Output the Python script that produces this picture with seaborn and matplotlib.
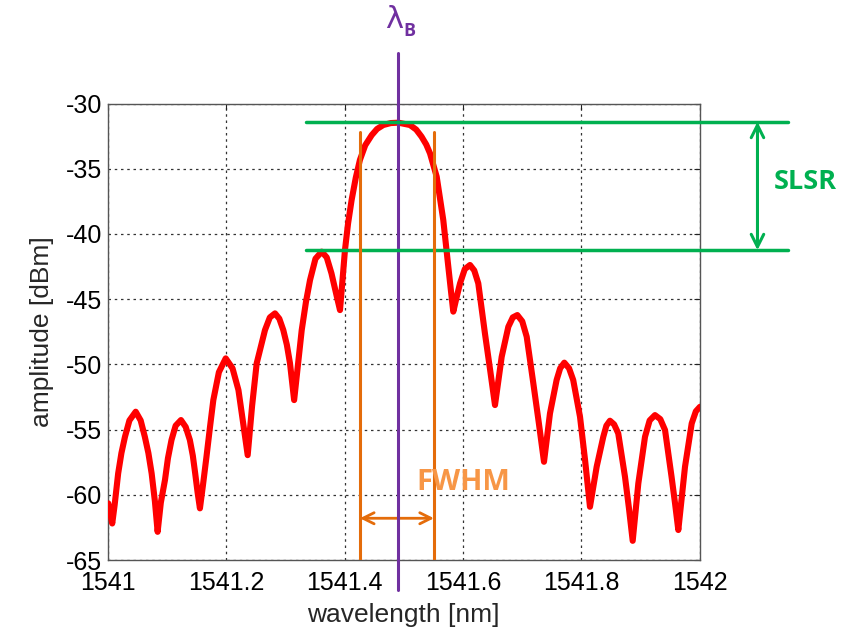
import matplotlib
matplotlib.use("Agg")
import matplotlib.pyplot as plt
import seaborn as sns
import pandas as pd

# ---- data ----
wavelength = [1541.0014, 1541.008, 1541.012, 1541.018, 1541.0235, 1541.0295, 1541.037, 1541.0476,
              1541.056, 1541.063, 1541.069, 1541.0745, 1541.080, 1541.0846,
              1541.090, 1541.097, 1541.102, 1541.108, 1541.115, 1541.124, 1541.132, 1541.139,
              1541.144, 1541.148, 1541.152, 1541.156,
              1541.161, 1541.167, 1541.173, 1541.1786, 1541.188, 1541.1995, 1541.211, 1541.221,
              1541.229, 1541.2366,
              1541.244, 1541.2518, 1541.2658, 1541.274, 1541.2827, 1541.290, 1541.2967, 1541.3027,
              1541.308, 1541.315,
              1541.3278, 1541.335, 1541.3418, 1541.351, 1541.3615, 1541.370, 1541.378, 1541.386,
              1541.3924,
              1541.3965, 1541.4008, 1541.406, 1541.412, 1541.419, 1541.426, 1541.435, 1541.446,
              1541.455, 1541.4655, 1541.478, 1541.491, 1541.5105, 1541.521, 1541.530, 1541.538,
              1541.5443, 1541.5556, 1541.5667, 1541.5752, 1541.5795, 1541.5836,
              1541.589, 1541.595, 1541.603, 1541.6118, 1541.619, 1541.6258, 1541.637, 1541.646,
              1541.654,
              1541.6653, 1541.6765, 1541.684, 1541.6917, 1541.700, 1541.7075, 1541.7187, 1541.728,
              1541.7367,
              1541.7468, 1541.758, 1541.764, 1541.771, 1541.779, 1541.786, 1541.7975, 1541.806,
              1541.8143,
              1541.8256, 1541.8368, 1541.842, 1541.848, 1541.855, 1541.862, 1541.8734, 1541.880,
              1541.8864,
              1541.8959, 1541.9072, 1541.915, 1541.924, 1541.933, 1541.941, 1541.952, 1541.958,
              1541.9634,
              1541.9747, 1541.986, 1541.993, 1542.0]
amplitude = [-60.66, -62.2, -60.8, -58.36, -56.8, -55.55, -54.3, -53.63,
             -54.3, -55.55, -56.8, -58.36, -60.5, -62.84,
             -60.6, -58.87, -57.2, -55.8, -54.7, -54.27, -54.8, -55.8,
             -57.0, -58.36, -59.8, -61.04,
             -59.3, -57.1, -54.8, -52.74, -50.6, -49.54, -50.3, -51.97,
             -54.52, -56.96,
             -53.2, -49.92, -47.37, -46.4, -46.09, -46.5, -47.37, -48.5,
             -49.92, -52.74,
             -47.37, -45.2, -43.54, -41.9, -41.36, -41.8, -43.02, -44.6,
             -45.84,
             -43.6, -41.23, -39.2, -37.4, -35.7, -34.33, -33.2, -32.42,
             -31.95, -31.65, -31.5, -31.47, -31.65, -32.0, -32.54, -33.15,
             -33.82, -35.61, -38.93, -42.51, -44.3, -45.96,
             -44.9, -43.79, -42.7, -42.38, -42.8, -43.79, -47.62, -50.5,
             -53.12,
             -49.42, -47.12, -46.4, -46.22, -46.7, -47.88, -51.46, -54.5,
             -57.47,
             -53.76, -51.2, -50.3, -49.87, -50.3, -51.2, -54.02, -57.34,
             -60.92,
             -57.85, -55.55, -54.7, -54.32, -54.6, -55.29, -58.62, -61.0,
             -63.53,
             -59.13, -55.55, -54.3, -53.89, -54.2, -55.04, -58.62, -60.7,
             -62.7,
             -57.85, -54.53, -53.6, -53.25]

x_ticks = [1541, 1541.2, 1541.4, 1541.6, 1541.8, 1542]
x_tick_labels = ["1541", "1541.2", "1541.4", "1541.6", "1541.8", "1542"]
y_ticks = [-65, -60, -55, -50, -45, -40, -35, -30]
y_tick_labels = ["-65", "-60", "-55", "-50", "-45", "-40", "-35", "-30"]

lambda_b = 1541.491
fwhm_left, fwhm_right = 1541.426, 1541.551
peak_level, sidelobe_level = -31.4, -41.25

df = pd.DataFrame({"wavelength": wavelength, "amplitude": amplitude})

sns.set_style("white")
plt.rcParams["font.family"] = ["Liberation Sans", "DejaVu Sans"]

fig = plt.figure(figsize=(8.46, 6.29), dpi=100)
ax = fig.add_axes([107.5 / 846, 1 - 560 / 629, (700 - 107.5) / 846, (560 - 103.5) / 629])

sns.lineplot(data=df, x="wavelength", y="amplitude", color="#ff0000", lw=4.4,
             ax=ax, zorder=3, sort=False, solid_joinstyle="round", solid_capstyle="round")

ax.set_xlim(1541, 1542)
ax.set_ylim(-65, -30)
ax.set_xticks(x_ticks)
ax.set_xticklabels(x_tick_labels)
ax.set_yticks(y_ticks)
ax.set_yticklabels(y_tick_labels)
ax.tick_params(direction="in", top=True, right=True, length=4, width=0.8,
               labelsize=18, colors="#222222", labelcolor="black")
ax.tick_params(axis="x", pad=8)
ax.tick_params(axis="y", pad=4)
ax.grid(True, color="#333333", linestyle=(0, (2, 3)), linewidth=0.9)
for s in ax.spines.values():
    s.set_color("#555555")
    s.set_linewidth(1.0)

ax.set_xlabel("wavelength [nm]", fontsize=19, labelpad=6)
ax.set_ylabel("amplitude [dBm]", fontsize=19, labelpad=8)

# ---- annotations ----
green = "#00b050"
orange = "#e46c0a"
purple = "#7030a0"

# lambda_B line
ax.plot([lambda_b, lambda_b], [-30 - (53 - 103.5) / 13.04, -30 - (590 - 103.5) / 13.04],
        color=purple, lw=2.2, clip_on=False, zorder=4)
fig.text(394 / 846, 1 - 20 / 629, "λ", color=purple, fontsize=22, ha="center", va="center",
         family=["DejaVu Sans"])
fig.text(409 / 846, 1 - 31 / 629, "B", color=purple, fontsize=13, ha="center", va="center",
         fontweight="bold", family=["Open Sans", "DejaVu Sans"])

# SLSR lines
x_g0, x_g1 = 1541.3345, 1542.149
ax.plot([x_g0, x_g1], [peak_level, peak_level], color=green, lw=2.5, clip_on=False, zorder=4)
ax.plot([x_g0, x_g1], [sidelobe_level, sidelobe_level], color=green, lw=2.5, clip_on=False, zorder=4)
ax.annotate("", xy=(1542.097, peak_level), xytext=(1542.097, sidelobe_level),
            arrowprops=dict(arrowstyle="<->,head_length=0.9,head_width=0.45", color=green, lw=2.2,
                            shrinkA=0, shrinkB=0), annotation_clip=False)
fig.text(805 / 846, 1 - 182 / 629, "SLSR", color=green, fontsize=19.5, fontweight="bold",
         ha="center", va="center", family=["Open Sans", "DejaVu Sans"])

# FWHM lines
y_top = -32.2
ax.plot([fwhm_left, fwhm_left], [y_top, -65], color=orange, lw=2.2, zorder=4)
ax.plot([fwhm_right, fwhm_right], [y_top, -65], color=orange, lw=2.2, zorder=4)
ax.annotate("", xy=(fwhm_left, -61.8), xytext=(fwhm_right, -61.8),
            arrowprops=dict(arrowstyle="<->,head_length=0.8,head_width=0.4", color=orange, lw=2.0,
                            shrinkA=0, shrinkB=0))
fig.text(463 / 846, 1 - 483 / 629, "FWHM", color="#f79646", fontsize=21, fontweight="bold",
         ha="center", va="center", family=["Open Sans", "DejaVu Sans"])

fig.savefig("out.png", dpi=100, facecolor="white")
